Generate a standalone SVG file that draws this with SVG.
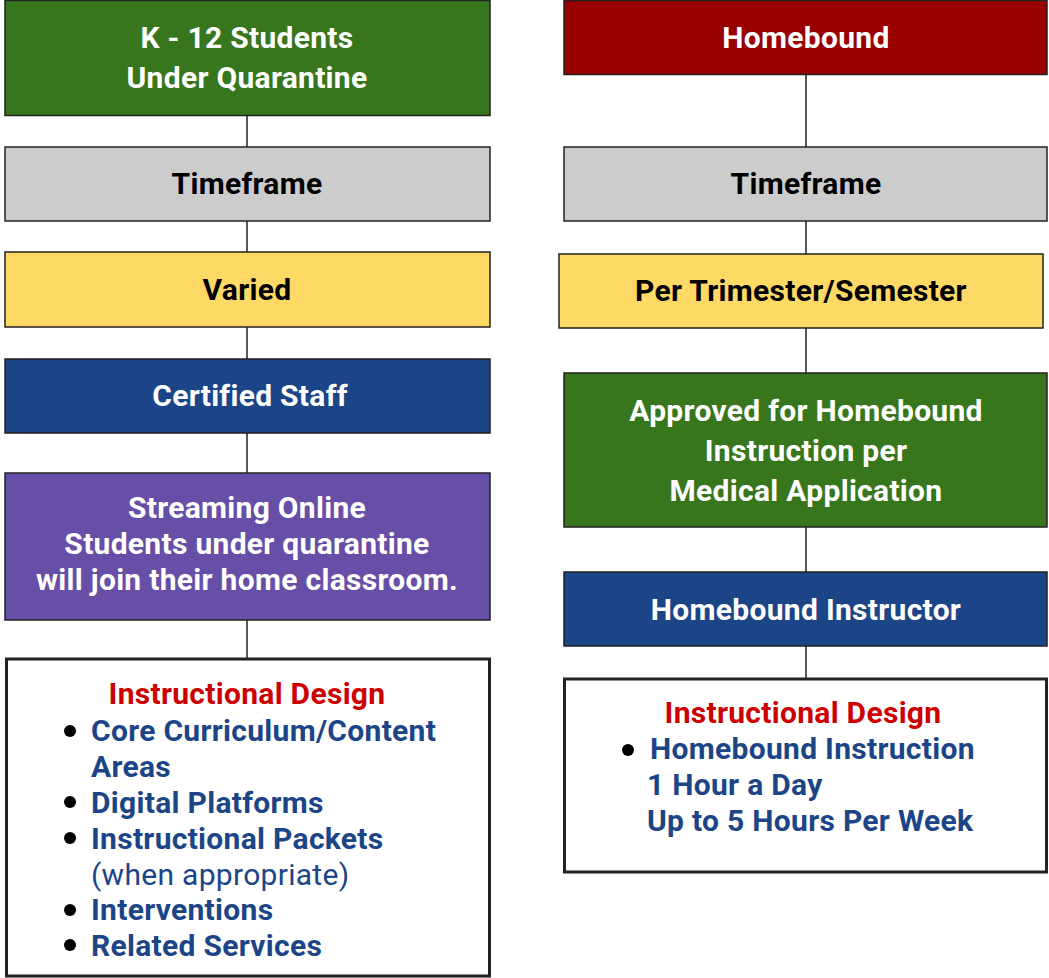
<svg xmlns="http://www.w3.org/2000/svg" width="1049" height="978" viewBox="0 0 1049 978">
<style>
.box{stroke:#222;stroke-width:1.5}
.t{font-family:Roboto,"Liberation Sans",sans-serif;font-weight:700;font-size:30px;letter-spacing:0.3px;text-anchor:middle}
.w{fill:#fff}
.k{fill:#000}
.red{fill:#cc0000}
.bl{font-family:Roboto,"Liberation Sans",sans-serif;font-weight:700;font-size:30px;letter-spacing:0.3px;fill:#1c4587}
.nm{font-weight:400}
.list{stroke:#222;stroke-width:3;fill:#fff}
.conn{stroke:#222;stroke-width:1.5;fill:none}
</style>
<rect width="1049" height="978" fill="#fff"/>
<g id="connectors">
<line class="conn" x1="247" y1="115" x2="247" y2="658"/>
<line class="conn" x1="806" y1="74" x2="806" y2="678"/>
</g>
<g id="l1"><rect class="box" x="5" y="0.5" width="485" height="115" fill="#38761d"/><text class="t w" x="247" y="48">K - 12 Students</text><text class="t w" x="247" y="88">Under Quarantine</text></g>
<g id="l2"><rect class="box" x="5" y="147" width="485" height="74" fill="#cccccc"/><text class="t k" x="247" y="194">Timeframe</text></g>
<g id="l3"><rect class="box" x="5" y="252" width="485" height="75" fill="#ffd966"/><text class="t k" x="247" y="300">Varied</text></g>
<g id="l4"><rect class="box" x="5" y="359" width="485" height="74" fill="#1c4587"/><text class="t w" x="250" y="406">Certified Staff</text></g>
<g id="l5"><rect class="box" x="5" y="473" width="485" height="147" fill="#674ea7"/><text class="t w" x="247" y="518">Streaming Online</text><text class="t w" x="247" y="554">Students under quarantine</text><text class="t w" x="247" y="590">will join their home classroom.</text></g>
<g id="l6"><rect class="list" x="6.5" y="659" width="483" height="317"/>
<text class="t red" x="247" y="704">Instructional Design</text>
<g fill="#000"><circle cx="70" cy="731" r="6"/><circle cx="70" cy="802" r="6"/><circle cx="70" cy="838" r="6"/><circle cx="70" cy="910" r="6"/><circle cx="70" cy="945" r="6"/></g>
<text class="bl" x="91" y="741">Core Curriculum/Content</text>
<text class="bl" x="91" y="777">Areas</text>
<text class="bl" x="91" y="813">Digital Platforms</text>
<text class="bl" x="91" y="849">Instructional Packets</text>
<text class="bl nm" x="91" y="885">(when appropriate)</text>
<text class="bl" x="91" y="920">Interventions</text>
<text class="bl" x="91" y="956">Related Services</text>
</g>
<g id="r1"><rect class="box" x="564" y="0.5" width="483" height="74" fill="#990000"/><text class="t w" x="806" y="48">Homebound</text></g>
<g id="r2"><rect class="box" x="564" y="147" width="483" height="74" fill="#cccccc"/><text class="t k" x="806" y="194">Timeframe</text></g>
<g id="r3"><rect class="box" x="559" y="254" width="484" height="74" fill="#ffd966"/><text class="t k" x="801" y="301">Per Trimester/Semester</text></g>
<g id="r4"><rect class="box" x="564" y="373" width="483" height="154" fill="#38761d"/><text class="t w" x="806" y="421">Approved for Homebound</text><text class="t w" x="806" y="461">Instruction per</text><text class="t w" x="806" y="501">Medical Application</text></g>
<g id="r5"><rect class="box" x="564" y="572" width="483" height="74" fill="#1c4587"/><text class="t w" x="806" y="620">Homebound Instructor</text></g>
<g id="r6"><rect class="list" x="564.5" y="679" width="482" height="193"/>
<text class="t red" x="803" y="723">Instructional Design</text>
<circle cx="628" cy="750" r="6" fill="#000"/>
<text class="bl" x="650" y="759">Homebound Instruction</text>
<text class="bl" x="647" y="795">1 Hour a Day</text>
<text class="bl" x="647" y="831">Up to 5 Hours Per Week</text>
</g>
</svg>
